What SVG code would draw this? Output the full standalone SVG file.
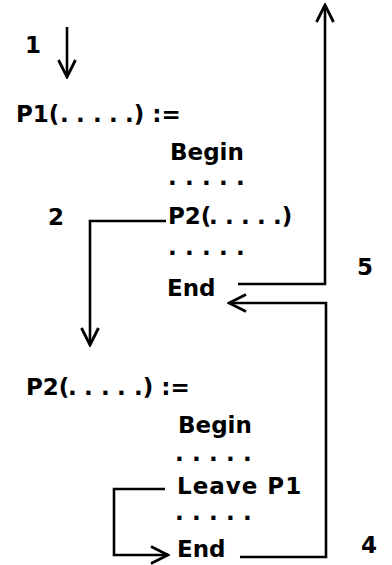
<svg xmlns="http://www.w3.org/2000/svg" width="392" height="565" viewBox="0 0 392 565">
<style>
text{font-family:"DejaVu Sans","Liberation Sans",sans-serif;font-weight:bold;font-size:23px;fill:#000}
.c{fill:none;stroke:#000;stroke-width:2.6;stroke-linejoin:miter;stroke-linecap:butt}
</style>
<defs>
<marker id="ah" viewBox="0 0 20 20" refX="18" refY="10" markerWidth="20" markerHeight="20" markerUnits="userSpaceOnUse" orient="auto">
<path d="M1,1.5 L18,10 L1,18.5" fill="none" stroke="#000" stroke-width="2.8"/>
</marker>
</defs>
<rect width="392" height="565" fill="#fff"/>
<g id="connectors">
<path id="c1" class="c" d="M67,27 V77" marker-end="url(#ah)"/>
<path id="c2" class="c" d="M166,221 H90 V345" marker-end="url(#ah)"/>
<path id="c5" class="c" d="M238,284 H325 V5" marker-end="url(#ah)"/>
<path id="c4" class="c" d="M240,557 H326 V303 H229" marker-end="url(#ah)"/>
<path id="c3" class="c" d="M165,489 H114 V555 H168" marker-end="url(#ah)"/>
</g>
<g id="labels">
<text id="l1" x="25" y="53">1</text>
<text id="l2" x="48" y="225">2</text>
<text id="l5" x="357" y="275">5</text>
<text id="l4" x="361" y="553">4</text>
</g>
<g id="p1">
<text x="16" y="122">P1(<tspan x="60 76 93 109 125">.....</tspan>) :=</text>
<text x="170" y="160">Begin</text>
<text x="168 185 202 219 236" y="185">.....</text>
<text x="168" y="224">P2(<tspan x="209 225 241 257 273">.....</tspan>)</text>
<text x="168 185 202 219 236" y="255">.....</text>
<text x="167" y="296">End</text>
</g>
<g id="p2">
<text x="26" y="395">P2(<tspan x="68 84 101 117 134">.....</tspan>) :=</text>
<text x="178" y="433">Begin</text>
<text x="175 192 209 226 243" y="461">.....</text>
<text x="177" y="494" letter-spacing="1">Leave P1</text>
<text x="175 192 209 226 243" y="520">.....</text>
<text x="177" y="557">End</text>
</g>
</svg>
